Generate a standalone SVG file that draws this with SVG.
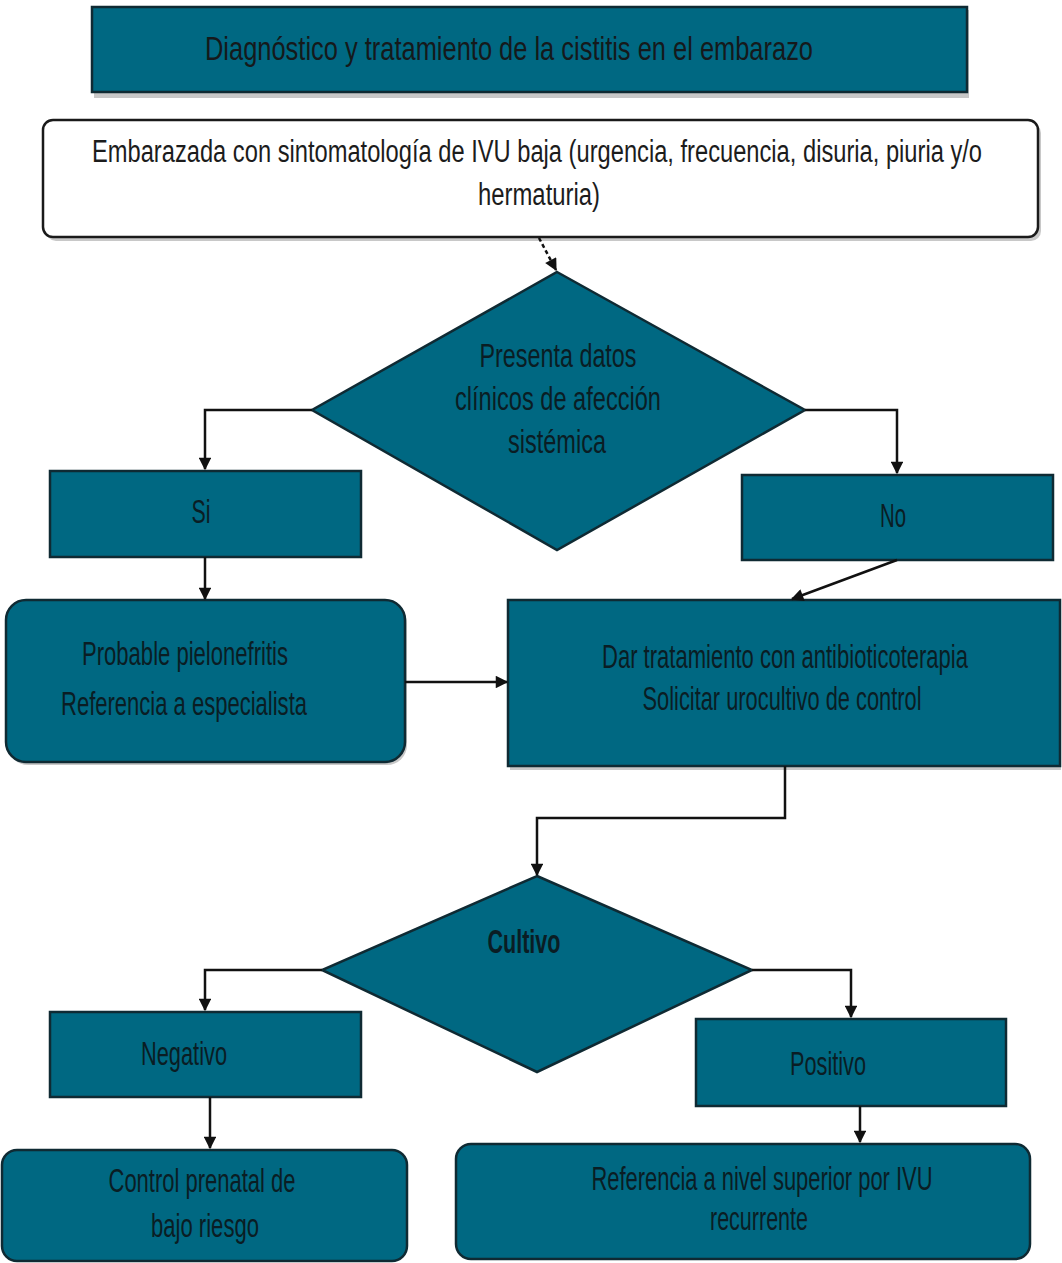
<svg xmlns="http://www.w3.org/2000/svg" width="1062" height="1263" viewBox="0 0 1062 1263">
<style>
.box{fill:#006882;stroke:#0f2a33;stroke-width:2.5}
.shadow{fill:#9a9a9a;opacity:0.55}
.t{font-family:"Liberation Sans Narrow","Liberation Sans",Arial,sans-serif;font-size:33px;fill:#0a1d24;text-anchor:middle}
.w{fill:#fff;stroke:#1a1a1a;stroke-width:2.5}
.c{fill:none;stroke:#111;stroke-width:2.5}
</style>
<defs>
<marker id="ah" viewBox="0 0 10 10" refX="9" refY="5" markerWidth="6" markerHeight="5" markerUnits="strokeWidth" orient="auto">
<path d="M0,0 L10,5 L0,10 z" fill="#111"/>
</marker>
</defs>
<rect width="1062" height="1263" fill="#fff"/>

<g id="title">
<rect class="shadow" x="94" y="10" width="875" height="88"/>
<rect class="box" x="92" y="7" width="875" height="85"/>
<text class="t" x="509" y="60" textLength="608" lengthAdjust="spacingAndGlyphs" style="fill:#15191b">Diagnóstico y tratamiento de la cistitis en el embarazo</text>
</g>

<g id="start">
<rect class="shadow" x="46" y="123" width="995" height="118" rx="10"/>
<rect class="w" x="43" y="120" width="995" height="117" rx="10"/>
<text class="t" x="537" y="162" textLength="890" lengthAdjust="spacingAndGlyphs" style="fill:#1c1c1c;font-size:31px">Embarazada con sintomatología de IVU baja (urgencia, frecuencia, disuria, piuria y/o</text>
<text class="t" x="539" y="205" textLength="122" lengthAdjust="spacingAndGlyphs" style="fill:#1c1c1c;font-size:31px">hermaturia)</text>
</g>

<g id="decision1">
<polygon class="box" points="557,272 805,410 557,550 312,410"/>
<text class="t" x="558" y="367" textLength="157" lengthAdjust="spacingAndGlyphs">Presenta datos</text>
<text class="t" x="558" y="410" textLength="206" lengthAdjust="spacingAndGlyphs">clínicos de afección</text>
<text class="t" x="557" y="453" textLength="98" lengthAdjust="spacingAndGlyphs">sistémica</text>
</g>

<g id="si">
<rect class="box" x="50" y="471" width="311" height="86"/>
<text class="t" x="201" y="523" textLength="19" lengthAdjust="spacingAndGlyphs">Si</text>
</g>

<g id="no">
<rect class="box" x="742" y="475" width="311" height="85"/>
<text class="t" x="893" y="527" textLength="26" lengthAdjust="spacingAndGlyphs">No</text>
</g>

<g id="pielo">
<rect class="shadow" x="8" y="603" width="399" height="162" rx="20"/>
<rect class="box" x="6" y="600" width="399" height="162" rx="20"/>
<text class="t" x="185" y="665" textLength="206" lengthAdjust="spacingAndGlyphs">Probable pielonefritis</text>
<text class="t" x="184" y="715" textLength="246" lengthAdjust="spacingAndGlyphs">Referencia  a especialista</text>
</g>

<g id="tratamiento">
<rect class="shadow" x="510" y="604" width="551" height="166"/>
<rect class="box" x="508" y="600" width="552" height="166"/>
<text class="t" x="785" y="668" textLength="366" lengthAdjust="spacingAndGlyphs">Dar tratamiento  con antibioticoterapia</text>
<text class="t" x="782" y="710" textLength="279" lengthAdjust="spacingAndGlyphs">Solicitar urocultivo de control</text>
</g>

<g id="decision2">
<polygon class="box" points="537,876 752,970 537,1072 322,970"/>
<text class="t" x="524" y="953" textLength="73" lengthAdjust="spacingAndGlyphs" style="font-weight:bold">Cultivo</text>
</g>

<g id="negativo">
<rect class="box" x="50" y="1012" width="311" height="85"/>
<text class="t" x="184" y="1065" textLength="86" lengthAdjust="spacingAndGlyphs">Negativo</text>
</g>

<g id="positivo">
<rect class="box" x="696" y="1019" width="310" height="87"/>
<text class="t" x="828" y="1075" textLength="76" lengthAdjust="spacingAndGlyphs">Positivo</text>
</g>

<g id="control">
<rect class="box" x="2" y="1150" width="405" height="111" rx="15"/>
<text class="t" x="202" y="1192" textLength="187" lengthAdjust="spacingAndGlyphs">Control prenatal de</text>
<text class="t" x="205" y="1237" textLength="108" lengthAdjust="spacingAndGlyphs">bajo riesgo</text>
</g>

<g id="referencia">
<rect class="box" x="456" y="1144" width="574" height="115" rx="15"/>
<text class="t" x="762" y="1190" textLength="341" lengthAdjust="spacingAndGlyphs">Referencia a nivel superior por IVU</text>
<text class="t" x="759" y="1230" textLength="98" lengthAdjust="spacingAndGlyphs">recurrente</text>
</g>

<g id="connectors">
<path class="c" d="M539,238 L556,270" stroke-dasharray="4,3" marker-end="url(#ah)"/>
<path class="c" d="M312,410 L205,410 L205,469" marker-end="url(#ah)"/>
<path class="c" d="M805,410 L897,410 L897,473" marker-end="url(#ah)"/>
<path class="c" d="M205,557 L205,599" marker-end="url(#ah)"/>
<path class="c" d="M897,560 L792,599" marker-end="url(#ah)"/>
<path class="c" d="M405,682 L507,682" stroke-width="3" marker-end="url(#ah)"/>
<path class="c" d="M785,766 L785,818 L537,818 L537,875" marker-end="url(#ah)"/>
<path class="c" d="M322,970 L205,970 L205,1010" marker-end="url(#ah)"/>
<path class="c" d="M752,970 L851,970 L851,1017" marker-end="url(#ah)"/>
<path class="c" d="M210,1097 L210,1148" marker-end="url(#ah)"/>
<path class="c" d="M860,1106 L860,1142" marker-end="url(#ah)"/>
</g>
</svg>
